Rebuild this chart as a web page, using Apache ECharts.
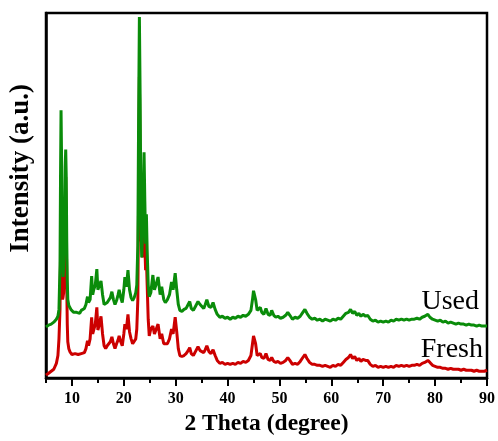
<!DOCTYPE html>
<html>
<head>
<meta charset="utf-8">
<script src="https://cdn.jsdelivr.net/npm/echarts@6/dist/echarts.min.js"></script>
<style>html,body{margin:0;padding:0;background:#fff;}#c{width:498px;height:441px;}</style>
</head>
<body>
<div id="c"></div>
<script>
// 2 Theta (degree)
var twoTheta = [5.0,5.5,6.0,6.5,7.0,7.3,7.5,7.7,7.8,7.9,8.0,8.1,8.2,8.3,8.4,8.5,8.6,8.7,8.8,8.9,9.0,9.1,9.2,9.4,9.6,9.8,
10.0,10.3,10.6,10.9,11.2,11.5,11.8,12.1,12.4,12.7,13.0,13.2,13.5,13.8,14.0,14.2,14.5,14.8,15.0,15.3,15.6,15.9,16.2,16.5,16.8,17.1,17.4,17.7,18.0,18.3,18.6,18.9,19.1,19.4,19.7,20.0,20.2,20.5,20.8,21.1,21.4,21.7,22.0,22.3,22.5,22.7,
22.85,23.0,23.15,23.3,23.45,23.6,23.75,23.9,24.05,24.2,24.35,24.5,24.7,24.9,25.2,25.6,25.9,26.2,26.6,27.0,27.3,27.7,28.0,28.4,28.8,29.2,29.5,29.9,30.2,30.5,30.8,31.2,31.6,32.0,32.4,32.7,33.0,33.4,33.8,34.3,34.7,35.0,35.4,35.7,36.0,36.4,36.8,37.2,37.6,38.0,38.5,39.0,39.5,40.0,40.5,41.0,41.5,42.0,42.5,43.0,43.5,44.0,44.5,44.8,45.0,45.2,45.4,45.7,46.0,46.3,46.6,47.0,47.4,47.8,48.2,48.5,48.9,49.3,49.7,50.2,50.7,51.2,51.6,52.0,52.5,53.0,53.5,54.0,54.5,54.9,55.3,55.8,56.3,56.8,57.3,57.8,58.3,58.8,59.3,59.8,60.3,60.8,61.3,61.8,62.3,62.8,63.3,63.7,64.1,64.5,64.9,65.3,65.7,66.1,66.6,67.0,67.5,68.0,68.5,69.0,69.5,70.0,70.5,71.0,71.5,72.0,72.5,73.0,73.5,74.0,74.5,75.0,75.5,76.0,76.5,77.0,77.5,78.0,78.6,79.0,79.5,80.0,80.5,81.0,81.5,82.0,82.5,83.0,83.5,84.0,84.5,85.0,85.5,86.0,86.5,87.0,87.5,88.0,88.5,89.0,89.5,90.0];

// Intensity (a.u.) - Used catalyst (green)
var usedIntensity = [52,54,55,57,60,63,70,115,205,273,225,145,115,103,115,135,170,215,233,205,140,100,80,74,72,70,
69,67,69,67,68,66,69,68,71,75,83,77,80,104,85,90,95,111,90,95,99,85,75,73,77,79,82,88,80,75,79,85,90,82,77,90,103,93,110,90,82,79,82,87,95,135,
265,368,285,160,123,145,190,230,180,137,167,130,95,83,87,105,90,95,103,85,93,80,77,80,85,98,90,107,90,75,69,68,70,71,75,78,71,69,73,78,75,75,71,75,80,73,72,77,70,65,62,63,61,62,60,62,61,63,62,64,63,65,69,80,89,89,80,69,67,72,67,65,71,65,64,69,64,62,63,61,62,64,67,64,60,62,61,63,67,70,66,62,60,61,59,60,58,60,59,58,60,59,61,60,63,66,67,70,66,68,64,66,63,65,63,64,60,58,59,57,58,57,58,57,59,58,60,59,60,59,60,59,60,60,61,60,62,63,65,62,60,59,58,59,57,58,56,57,56,55,56,55,55,54,55,54,54,53,54,53,53,53];

// Intensity (a.u.) - Fresh catalyst (red)
var freshIntensity = [3,5,7,9,15,23,40,70,125,185,135,87,80,83,87,100,123,170,205,160,95,55,37,30,27,26,
24,23,25,23,24,22,25,23,26,30,38,33,40,62,45,47,55,72,49,55,63,45,33,30,33,35,37,42,35,30,35,39,43,37,33,45,55,50,65,47,40,35,33,40,50,80,
185,307,215,145,135,123,145,175,135,110,123,95,60,43,50,53,45,43,55,40,45,35,33,35,40,50,45,62,47,30,23,22,23,25,28,31,25,23,27,32,28,30,26,29,33,27,25,29,23,18,15,16,14,15,14,15,14,16,15,17,16,18,23,35,43,43,35,23,22,25,21,20,25,19,18,21,17,16,17,15,16,18,21,18,14,15,14,17,21,24,20,16,14,14,13,13,12,13,12,11,13,12,14,13,16,19,21,24,20,22,18,20,17,19,18,18,14,12,13,11,12,11,12,11,12,11,13,12,13,12,13,12,13,13,14,13,15,16,18,16,13,12,11,11,10,10,9,10,9,9,9,8,9,8,8,8,7,8,7,7,7,8];

var seriesNames = ['Fresh', 'Used'];
var majorTicks = [10,20,30,40,50,60,70,80,90];
var minorTicks = [5,15,25,35,45,55,65,75,85];

function pairs(xs, ys) {
  var out = [];
  for (var i = 0; i < xs.length; i++) out.push([xs[i], ys[i]]);
  return out;
}

var serif = "'Times New Roman', 'Liberation Serif', serif";
var chart = echarts.init(document.getElementById('c'), null, {renderer: 'canvas'});
chart.setOption({
  animation: false,
  backgroundColor: '#fff',
  grid: {left: 46, right: 11, top: 13, bottom: 56, show: true, borderColor: '#000', borderWidth: 2.5},
  xAxis: [{
    type: 'value', min: 5, max: 90,
    axisLine: {show: true, onZero: false, lineStyle: {color: '#000', width: 2.5}},
    axisTick: {show: true, inside: false, length: 8, lineStyle: {color: '#000', width: 2}, customValues: majorTicks},
    axisLabel: {show: true, customValues: majorTicks, margin: 13, color: '#000', fontFamily: serif, fontWeight: 'bold', fontSize: 16},
    splitLine: {show: false},
    name: '2 Theta (degree)', nameLocation: 'middle', nameGap: 29,
    nameTextStyle: {color: '#000', fontFamily: serif, fontWeight: 'bold', fontSize: 23.5}
  }, {
    type: 'value', min: 5, max: 90, position: 'bottom',
    axisLine: {show: false, onZero: false},
    axisTick: {show: true, inside: false, length: 5, lineStyle: {color: '#000', width: 2}, customValues: minorTicks},
    axisLabel: {show: false},
    splitLine: {show: false}
  }],
  yAxis: {
    type: 'value', min: 0, max: 372,
    axisLine: {show: true, onZero: false, lineStyle: {color: '#000', width: 2.5}},
    axisTick: {show: false}, axisLabel: {show: false}, splitLine: {show: false}
  },
  graphic: [
    {type: 'text', left: 8, top: 84, rotation: Math.PI / 2, style: {text: 'Intensity (a.u.)', fill: '#000', font: 'bold 27px ' + serif}},
    {type: 'text', right: 19, top: 288, style: {text: seriesNames[1], fill: '#000', font: '28px ' + serif}},
    {type: 'text', right: 15, top: 336, style: {text: seriesNames[0], fill: '#000', font: '28px ' + serif}}
  ],
  series: [{
    name: seriesNames[0], type: 'line', xAxisIndex: 0, showSymbol: false, symbol: 'none',
    data: pairs(twoTheta, freshIntensity),
    lineStyle: {color: '#cc0000', width: 3}, itemStyle: {color: '#cc0000'}
  }, {
    name: seriesNames[1], type: 'line', xAxisIndex: 0, showSymbol: false, symbol: 'none',
    data: pairs(twoTheta, usedIntensity),
    lineStyle: {color: '#0a8c0a', width: 3}, itemStyle: {color: '#0a8c0a'}
  }]
});
</script>
</body>
</html>
